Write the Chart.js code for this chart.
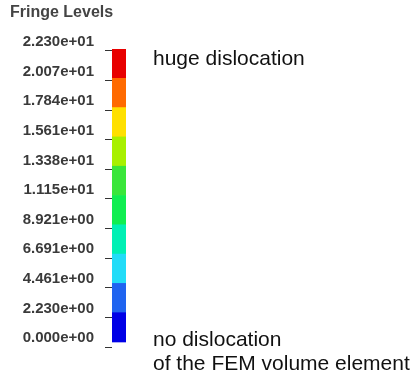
<!DOCTYPE html>
<html>
<head>
<meta charset="utf-8">
<script src="https://cdn.jsdelivr.net/npm/chart.js@4"></script>
<style>
  html, body { margin: 0; padding: 0; background: #fff; }
  #wrap { width: 420px; height: 376px; }
</style>
</head>
<body>
<div id="wrap"><canvas id="fringe"></canvas></div>
<script>
const levels = [0, 2.230, 4.461, 6.691, 8.921, 11.15, 13.38, 15.61, 17.84, 20.07, 22.30];
const tickLabels = ['0.000e+00', '2.230e+00', '4.461e+00', '6.691e+00', '8.921e+00', '1.115e+01',
  '1.338e+01', '1.561e+01', '1.784e+01', '2.007e+01', '2.230e+01'];
const bandColors = ['#0000e6', '#1f64f0', '#22dcf8', '#00f0b4', '#10ee50',
  '#3ae63a', '#a8f000', '#ffe000', '#ff6a00', '#e80000'];
const topNote = ['huge dislocation'];
const bottomNote = ['no dislocation', 'of the FEM volume element'];

// one floating bar per band, all on the same spot
const bands = bandColors.map((c, i) => ({
  data: [[levels[i], levels[i + 1]]],
  backgroundColor: c,
  borderWidth: 0,
  grouped: false,
  yAxisID: 'y',
  barPercentage: 1,
  categoryPercentage: 1
}));

const notes = {
  id: 'notes',
  afterDraw(chart) {
    const ctx = chart.ctx;
    const y = chart.scales.y;
    const x = chart.chartArea.right + 27;
    ctx.save();
    ctx.font = '21px "Liberation Sans", Arial, sans-serif';
    ctx.fillStyle = '#111';
    ctx.textBaseline = 'alphabetic';
    topNote.forEach((t, i) => ctx.fillText(t, x, y.getPixelForValue(levels[levels.length - 1]) + 16 + i * 24));
    bottomNote.forEach((t, i) => ctx.fillText(t, x, y.getPixelForValue(levels[0]) + 4 + i * 24));
    ctx.restore();
  }
};

new Chart(document.getElementById('fringe'), {
  type: 'bar',
  data: { labels: [''], datasets: bands },
  options: {
    responsive: true,
    maintainAspectRatio: false,
    animation: false,
    layout: { padding: { left: 10, right: 294, top: 0, bottom: 29 } },
    scales: {
      x: { display: false },
      y: { display: false, min: -0.38, max: 22.30 },
      yt: {
        position: 'left',
        min: 0,
        max: 22.45,
        afterBuildTicks: s => { s.ticks = levels.map(v => ({ value: v })); },
        afterFit: s => { s.width = 102; },
        border: { display: false },
        grid: { drawOnChartArea: false, drawTicks: true, tickLength: 7, tickColor: '#333', lineWidth: 1 },
        ticks: {
          padding: 11,
          labelOffset: -9,
          color: '#3a3a3a',
          font: { family: '"Liberation Sans", Arial, sans-serif', size: 15, weight: 'bold' },
          callback: (v, i) => tickLabels[i]
        }
      }
    },
    plugins: {
      legend: { display: false },
      tooltip: { enabled: false },
      title: {
        display: true,
        text: 'Fringe Levels',
        align: 'start',
        color: '#444',
        font: { family: '"Liberation Sans", Arial, sans-serif', size: 16, weight: 'bold', lineHeight: 1.125 },
        padding: { top: 4, bottom: 27 }
      }
    }
  },
  plugins: [notes]
});
</script>
</body>
</html>
